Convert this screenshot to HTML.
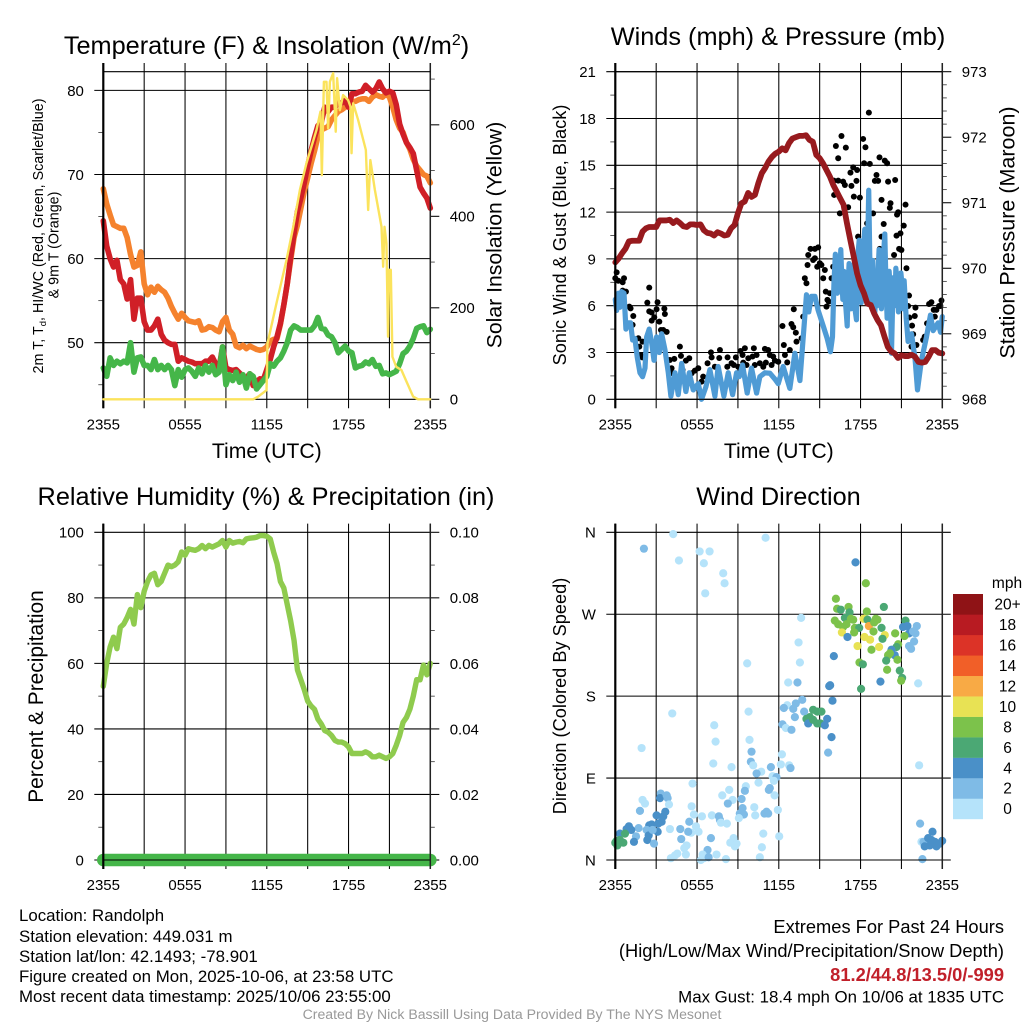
<!DOCTYPE html>
<html>
<head>
<meta charset="utf-8">
<title>Randolph Mesonet Meteogram</title>
<style>
html,body{margin:0;padding:0;background:#fff;}
svg{display:block;}
text{font-family:"Liberation Sans",Arial,sans-serif;fill:#000;}
.tick{font-size:15px;}
.title{font-size:25.3px;text-anchor:middle;}
.xt{font-size:21.2px;text-anchor:middle;}
.foot{font-size:16.85px;}
.big{font-size:18.3px;}
.r{text-anchor:end;}
</style>
</head>
<body>
<svg id="chart" xmlns="http://www.w3.org/2000/svg" width="1024" height="1024" viewBox="0 0 1024 1024">
<rect x="0" y="0" width="1024" height="1024" fill="#fff"/>
<text class="title" x="266.5" y="54">Temperature (F) &amp; Insolation (W/m<tspan dy="-9" font-size="16">2</tspan><tspan dy="9">)</tspan></text>
<text class="title" x="778" y="45">Winds (mph) &amp; Pressure (mb)</text>
<text class="title" x="266" y="505">Relative Humidity (%) &amp; Precipitation (in)</text>
<text class="title" x="778.5" y="505">Wind Direction</text>
<text class="xt" x="266.8" y="458">Time (UTC)</text>
<text class="xt" x="778.8" y="458">Time (UTC)</text>
<text font-size="14.3" text-anchor="middle" transform="translate(43,236) rotate(-90)">2m T, T<tspan dy="3" font-size="9.5">d</tspan><tspan dy="-3">, HI/WC (Red, Green, Scarlet/Blue)</tspan></text>
<text font-size="14.3" text-anchor="middle" transform="translate(58.5,245) rotate(-90)">&amp; 9m T (Orange)</text>
<text font-size="21.2" text-anchor="middle" transform="translate(501.5,235) rotate(-90)">Solar Insolation (Yellow)</text>
<text font-size="18.2" text-anchor="middle" transform="translate(566,235) rotate(-90)">Sonic Wind &amp; Gust (Blue, Black)</text>
<text font-size="21.5" text-anchor="middle" transform="translate(1014.5,232.5) rotate(-90)">Station Pressure (Maroon)</text>
<text font-size="20.9" text-anchor="middle" transform="translate(43,696.5) rotate(-90)">Percent &amp; Precipitation</text>
<text font-size="18.2" text-anchor="middle" transform="translate(566,696) rotate(-90)">Direction (Colored By Speed)</text>
<text x="1007" y="588" text-anchor="middle" font-size="15.5">mph</text>
<text class="foot" x="19" y="921">Location: Randolph</text>
<text class="foot" x="19" y="942">Station elevation: 449.031 m</text>
<text class="foot" x="19" y="962">Station lat/lon: 42.1493; -78.901</text>
<text class="foot" x="19" y="982">Figure created on Mon, 2025-10-06, at 23:58 UTC</text>
<text class="foot" x="19" y="1002">Most recent data timestamp: 2025/10/06 23:55:00</text>
<text class="big r" x="1004" y="933">Extremes For Past 24 Hours</text>
<text class="big r" x="1004" y="957">(High/Low/Max Wind/Precipitation/Snow Depth)</text>
<text class="big r" x="1004" y="981" font-weight="bold" style="fill:#c1202a">81.2/44.8/13.5/0/-999</text>
<text class="foot r" x="1004" y="1002.5">Max Gust: 18.4 mph On 10/06 at 1835 UTC</text>
<text x="512" y="1019" text-anchor="middle" font-size="14.1" style="fill:#999">Created By Nick Bassill Using Data Provided By The NYS Mesonet</text>
</svg>
<script>
// ---------- data ----------
const xTickHours = [0,3,6,9,12,15,18,21,24];
const xTickLabels = ['2355','','0555','','1155','','1755','','2355'];

const temp9m = [68.3,66.5,65.2,64,63.8,63.6,63.6,62.5,60.5,59,59.2,60.8,57,55.7,56.6,56,56.7,56.3,56,55.3,54.3,53.5,52.8,53.5,53,52.6,52.5,52.4,52.6,51.5,51.6,51.9,51.8,51.5,51.3,52.5,53,51.5,51,49.6,49.4,49.7,49.3,49.6,49.4,49.2,49.1,49.2,49.5,50.2,50.4,50.5,52.2,54.5,57,59.8,62.5,64,66,68,69.6,71.3,72.8,74.5,75.3,75.5,75.7,76.5,77,77.5,77.7,78,78.3,78.7,78.7,78.9,79,79,78.7,79.2,79.5,79.3,79.2,79.6,79.2,78,76.5,75.5,75,73.8,73,71.8,71,70.5,70,69.8,69];
const temp2m = [64.5,61.5,60,59,59.8,57.5,57,55.2,57.5,52.8,55.3,55.3,52.5,51.5,51.5,52,52.8,51,50.3,50,49.8,49.8,47.8,48.2,48,47.8,47.7,47.5,47.5,47.5,47.8,47.8,48.3,47.5,47,49.5,47,46.8,46.7,46.8,46.4,46,45.8,46.3,44.9,45.4,45.7,45.6,46.8,48,49.5,50.7,52.3,54.5,57,60.2,63,65.6,67.2,69,71,72.8,74.4,75.8,76.2,78,77.5,78,78,78.5,78.5,78.8,78,79.6,79.6,79.8,79.9,80.6,80.2,79.8,80.2,81,80.2,79.7,79.9,79.7,78.3,76,74.8,73.8,73.2,72.5,70.5,68.5,67.8,67.2,66];
const dewpoint = [47,46,48.2,47.3,47.8,47.5,47.8,47.6,50,46.5,48.2,48.3,47.3,47.3,46.8,48,46.8,47.3,46.8,47.3,46.8,44.9,46.8,45.9,46.8,47,46.6,46,47,46.3,47.3,46.5,47.3,46.2,46.5,49.5,45,46.2,45.5,46.5,45.3,46.2,44.6,46.3,46,44.5,45,45.5,46,47.5,47.2,47.8,48.2,49,50,51.5,52,51.8,51.5,51.5,51.5,51.5,52,53,51.7,51.6,50.9,50.7,50,48.8,49.2,49.6,49,48.8,47,47.2,47.3,47.7,47.5,48,47.2,47.3,46.3,46.4,46.2,46.4,46.6,47.5,48.7,49,49.6,50.5,51.7,51.9,52,51.2,51.6];
const solarHours = [0,11,11.37,11.98,12.05,12.71,13.45,13.94,14.43,14.91,15.65,15.94,16.04,16.19,16.38,16.5,16.63,16.87,17.06,17.16,17.36,17.6,17.97,18.14,18.22,18.34,18.7,19.27,19.44,19.6,19.93,20.42,20.54,20.64,20.78,20.9,20.98,21.1,21.22,21.5,21.88,22.25,22.74,23.1,24];
const solarWatts = [0,0,6,20,122,210,305,377,458,516,589,629,490,694,694,592,694,713,585,702,632,665,654,640,538,647,611,545,414,523,458,377,290,377,341,137,283,283,93,71,64,39,6,0,0];

const pressureMb = [970.09,970.15,970.23,970.3,970.41,970.42,970.42,970.42,970.56,970.61,970.63,970.63,970.63,970.73,970.73,970.73,970.74,970.69,970.73,970.69,970.64,970.63,970.67,970.67,970.66,970.67,970.58,970.54,970.53,970.5,970.55,970.53,970.5,970.51,970.61,970.66,970.84,970.99,971.02,971.15,971.09,971.12,971.3,971.45,971.53,971.63,971.7,971.75,971.78,971.83,971.8,971.91,971.98,972,972.02,972.02,972.03,971.96,971.93,971.73,971.68,971.6,971.5,971.4,971.27,971.17,971.07,970.97,970.69,970.43,970.18,969.92,969.74,969.62,969.46,969.44,969.31,969.21,969.13,968.96,968.8,968.73,968.7,968.63,968.67,968.66,968.66,968.68,968.65,968.57,968.56,968.57,968.65,968.75,968.75,968.71,968.7];
const windHours = [0,.1,.22,.34,.46,.64,.78,.95,1.12,1.27,1.44,1.61,1.81,2.0,2.18,2.3,2.49,2.67,2.84,3.03,3.23,3.4,3.64,3.89,4.08,4.38,4.62,4.87,5.18,5.43,5.72,6.09,6.33,6.65,6.94,7.31,7.55,7.97,8.29,8.61,8.9,9.1,9.34,9.68,10.0,10.37,10.61,10.98,11.35,11.71,11.96,12.32,12.81,13.18,13.55,14.03,14.2,14.4,14.65,14.89,15.26,15.55,15.79,
15.94,16.05,16.15,16.22,16.3,16.38,16.45,16.55,16.63,16.7,16.78,16.85,16.93,17.02,17.1,17.16,17.24,17.3,17.38,17.46,17.54,17.62,17.7,17.78,17.84,17.9,17.97,18.05,18.14,18.22,18.31,18.4,18.48,18.54,18.6,18.68,18.75,18.83,18.9,18.97,19.05,19.15,19.22,19.3,19.36,19.45,19.53,19.6,19.7,19.78,19.87,19.95,20.02,20.1,20.18,20.27,20.35,20.43,20.52,20.59,20.68,20.78,20.88,20.96,21.04,21.12,21.2,21.35,21.49,
21.74,22.0,22.18,22.47,22.84,23.13,23.33,23.69,23.87,24];
const windSpeeds = [6.4,5.7,6.8,5.9,6.9,6.8,4.5,4.9,4.9,3.8,3.9,2.7,1.7,1.45,2.0,4.0,4.5,3.6,2.5,4.0,3.0,4.2,3.2,1.7,.2,1.7,.3,2.3,.5,1.7,.6,1.0,0,.8,1.9,.2,2.1,.2,1.7,.3,1.7,1.45,2.2,.4,2.0,.4,1.45,1.7,1.67,1.3,1.0,2.1,.7,2.95,1.2,6.7,5.6,6.6,6.6,5.7,4.7,3.9,3.05,
4.0,7.5,9.3,8.4,6.8,8.9,7.2,9.6,7.6,6.4,8.2,6.6,5.8,4.7,7.6,8.7,6.6,5.8,8.3,8.6,6.4,5.6,5.1,8,9.6,10.2,7.2,6.2,7.6,9.6,10.9,8,6.6,10.5,13.4,9,6.4,7.4,8.9,6.6,5.6,7.6,6,8.4,9.6,6.8,5.8,7.6,9.4,10.6,7.2,5.2,5.9,8.2,7,2.95,6,7.8,6,8.4,7.6,5.6,6.6,8.1,7.4,5.8,7.6,5.2,3.7,
4.2,2.6,.6,2.5,4.0,5.4,4.4,4.9,4.3,5.3];
const gustHours = [.1,0,.22,.54,.64,.54,.78,1.03,1.12,1.32,1.27,1.69,2.0,1.76,1.86,1.98,2.49,2.35,2.49,2.67,3.1,3.03,2.86,2.67,3.23,3.6,3.64,3.35,3.52,3.77,4.74,4.33,4.82,5.43,5.18,4.0,4.13,4.2,4.38,4.94,6.09,5.84,5.6,6.33,6.45,6.77,7.02,7.07,7.63,7.68,7.31,6.94,8.24,8.22,8.53,8.7,8.85,9.02,9.19,9.51,9.34,10.17,10.07,9.76,9.39,10.37,9.63,10.24,10.61,10.98,11.22,11.34,11.59,11.05,10.86,11.47,11.71,11.96,12.27,13.1,12.93,13.06,13.25,12.37,12.45,12.62,12.81,13.3,13.67,13.79,13.91,14.03,14.11,14.16,14.33,14.65,14.89,14.52,14.65,14.82,15.01,15.13,15.38,15.26,15.87,15.99,15.45,15.75,15.57,15.67,15.5,16.19,16.6,16.36,16.92,18.19,18.36,18.61,18.26,18.68,19.39,19.78,19.95,17.26,17.46,17.75,16.04,16.36,16.72,16.85,17.33,17.7,19.17,19.05,19.29,20.02,20.54,16.06,17.51,17.95,19.54,20.2,21.3,16.48,17.09,20.15,18.92,20.76,20.68,19.7,18.48,21.17,20.93,20.64,17.82,19.54,19.41,20.83,21,20.46,21.37,21.56,21.49,22.03,21.59,21.98,21.78,21.86,22.1,21.74,22.35,22.59,22.71,22.88,23.03,23.2,23.37,23.57,23.45,23.76,23.94,23.86];
const gustSpeeds = [8.14,7.76,7.6,7.5,7.76,6.97,6.9,5.94,5.83,5.34,4.77,3.91,3.7,3.38,2.84,2.69,7.16,6.2,5.64,5.56,6.22,5.77,5.26,5.04,4.98,5.81,5.47,4.44,4.44,4.32,3.38,2.59,2.78,2.63,2.48,2.52,1.99,1.67,1.56,1.88,1.99,1.84,1.67,1.13,1.45,2.31,3.01,2.69,2.65,3.16,2.09,1.67,2.69,2.09,2.31,2.2,2.69,2.09,3.1,3.27,2.84,3.27,2.74,2.63,2.35,2.84,2.2,2.2,2.31,3.23,3.16,2.84,2.74,2.35,2.09,2.2,2.48,2.41,4.7,5.77,4.83,4.62,4.27,3.48,2.84,2.37,3.16,3.7,3.91,5.3,7.76,7.44,8.61,9.25,9.64,9.64,9.74,8.93,9.04,8.5,8.72,8.61,8.29,7.76,7.76,8.5,6.9,6.8,6.37,6.26,5.94,16.24,16.88,15.45,16.13,16.69,16.16,18.38,15.13,15.09,15.51,15.3,15.13,14.53,14.87,14.7,14.02,14.02,13.95,13.74,13.68,14,14.38,14,14,13.95,14.06,13.1,12.99,12.93,12.78,12.57,12.48,11.92,12.31,12.27,11.92,11.99,11.84,11.24,11.28,11.13,10.64,10.49,10.43,10.43,9.64,9.64,9.57,9.25,8.4,6.65,5.98,5.88,5.24,5.34,4.72,4.17,3.48,3.38,2.09,3.8,4.02,4.87,6.11,6.22,5.73,5.73,5.3,5.98,6.33,5.98];

const relHumidity = [53,60,65,68,64.5,71,72,74,76.5,72,81,77,82,85,87,87.5,84,85,87.5,90,89.5,90,91,94,93,95,94.7,94.5,95,96,95,96,95.5,96,96.5,97.5,95.5,97.5,96.7,97,97.2,96.8,98,98.2,98.3,98.5,99,99,98.8,98,94,90.5,85,83,78,73,67,58,55,52,48.5,47,46,43,41.5,39.5,39,38,36.5,36,36,35.5,34.5,32.5,32.5,32.5,32.5,33,32.5,31.5,31.5,32,31.5,31,31.5,32.5,35,38,42,43.5,46,50,55,55,59.5,56.5,60];
const precipInches = [0,0,0,0,0,0,0,0,0,0,0,0,0,0,0,0,0,0,0,0,0,0,0,0,0];

const dirHours = [4.25,2.10,11.03,6.19,6.92,4.67,6.50,7.92,8.02,6.60,
9.68,1.93,4.18,7.26,7.36,9.78,9.85,7.19,8.53,10.0,
9.95,10.12,10.71,10.37,11.42,11.54,11.83,11.64,10.51,9.58,
9.51,11.34,11.27,11.69,9.27,8.61,8.36,7.85,8.26,5.67,
5.60,9.34,9.14,9.44,9.07,10.2,10.27,11.93,11.1,10.95,
11.22,5.77,6.36,7.09,7.6,7.68,7.75,8.19,5.43,5.92,
6.11,5.57,4.77,5.35,4.01,4.84,7.02,5.23,5.06,5.18,
4.55,4.38,4.08,6.77,6.41,6.5,6.85,6.28,7.43,8.12,
8.68,8.44,8.9,8.78,10.86,10.76,10.61,12.03,1.81,2.0,
2.18,3.33,3.28,3.77,3.84,3.94,3.67,3.52,3.03,3.4,
3.15,2.67,2.49,2.3,1.71,1.52,1.0,.83,1.17,.34,
.71,.34,.1,0,.15,.59,1.37,2.35,2.45,2.84,
3.11,2.74,
17.63,18.39,16.19,16.28,16.55,17.12,17.19,18.46,19.71,16.85,
16.11,16.36,16.72,16.97,17.29,17.46,17.58,17.9,18.22,18.51,
18.61,19.12,19.24,19.0,18.95,19.54,21.3,21.12,21.44,22.13,
21.56,22.03,21.86,20.54,21.22,19.78,16.63,17.04,17.53,18.29,
18.7,19.61,17.78,19.36,18.8,21.93,21.56,21.71,20.76,20.64,
20.27,20.51,20.15,20.02,16.04,19.88,20.71,17.92,18.17,19.95,
20.88,21.05,20.98,19.46,15.77,15.7,18.04,22.23,13.64,13.45,
13.55,12.69,13.37,13.72,13.25,12.62,12.37,13.06,13.18,12.27,
12.52,12.93,13.86,15.94,14.52,14.82,15.13,14.28,14.03,14.16,
14.52,14.82,15.06,15.55,15.38,15.87,15.62,12.23,12.15,12.76,
12.86,22.3,22.37,22.47,22.62,23.28,22.96,23.2,23.45,23.99,
23.57,23.08,22.71,23.81,22.54];
const dirDegrees = [358,342,354,339,339,329,326,315,304,293,
216,123,161,148,130,163,132,106,102,119,
108,104,97,95,102,92,91,87,85,81,
76,79,77,71,67,66,77,71,62,84,
59,57,51,50,46,58,49,55,53,51,
51,50,48,49,48,44,41,40,42,37,
31,30,34,31,34,23,24,16,13,6,
7,5,2,11,6,2,3,0,6,1,
24,19,18,15,29,14,3,26,54,66,
62,73,68,71,68,61,53,48,49,42,
40,39,38,33,35,26,37,34,33,29,
29,22,21,19,16,19,20,22,27,18,
31,33,
327,304,287,276,275,278,272,273,278,266,
263,259,256,259,265,264,255,255,265,264,
257,265,264,261,251,255,263,256,257,257,
249,249,251,249,246,247,250,245,250,245,
242,243,235,234,231,240,235,232,237,234,
231,225,227,225,224,219,220,217,215,209,
208,200,197,196,192,191,188,194,266,239,
217,195,195,176,172,170,167,166,157,149,
145,143,163,175,165,163,163,157,155,150,
154,150,150,155,148,135,118,116,105,104,
101,104,40,20,20,31,24,22,20,21,
15,16,15,18,1];
const dirSpeeds = [1,3,1,1,1,1,1,1,1,1,
1,1,1,1,1,1,1,1,1,3,
3,1,1,3,3,1,3,1,1,1,
3,3,3,1,3,1,1,1,3,1,
1,3,3,3,1,1,1,1,3,3,
3,1,1,1,3,3,1,1,3,1,
1,1,3,3,1,3,3,1,1,1,
1,1,1,3,1,1,3,1,1,1,
1,1,1,1,1,1,1,1,3,1,
1,3,5,3,3,1,5,5,5,5,
5,5,5,3,3,3,5,5,5,5,
7,7,7,7,7,7,5,5,5,3,
5,3,
5,9,9,9,7,9,7,9,7,7,
9,9,9,9,9,9,9,7,11,7,
13,9,9,9,9,7,7,5,5,3,
5,3,3,9,9,11,11,5,9,11,
11,7,11,11,9,3,3,3,9,7,
5,5,9,9,5,7,9,9,7,9,
7,7,9,5,5,5,7,1,1,1,
1,1,3,3,3,1,3,3,3,3,
1,3,3,5,7,7,7,7,7,5,
7,7,7,5,5,5,3,1,1,1,
3,1,3,1,3,5,5,5,5,5,
5,5,5,5,3];
const speedBinColors = ['#b5e3fa','#7fbbe6','#4a90c8','#4ba874','#7cc24b','#e8e254','#f8aa45','#f15f28','#dc3327','#b81b22','#8f1316'];
const speedBinLabels = ['0','2','4','6','8','10','12','14','16','18','20+'];

const tempMajorTicks = [50,60,70,80];
const tempMinorTicks = [45,55,65,75];
const solarMajorTicks = [0,200,400,600];
const solarMinorTicks = [100,300,500,700];
const windMajorTicks = [0,3,6,9,12,15,18,21];
const windMinorTicks = [1.5,4.5,7.5,10.5,13.5,16.5,19.5];
const pressureMajorTicks = [968,969,970,971,972,973];
const pressureMinorTicks = [968.2,968.4,968.6,968.8,969.2,969.4,969.6,969.8,970.2,970.4,970.6,970.8,971.2,971.4,971.6,971.8,972.2,972.4,972.6,972.8];
const rhMajorTicks = [0,20,40,60,80,100];
const rhMinorTicks = [10,30,50,70,90];
const precipMajorTicks = [0,.02,.04,.06,.08,.1];
const precipMinorTicks = [.01,.03,.05,.07,.09];
const dirMajorTicks = [0,90,180,270,360];
const dirLabels = ['N','E','S','W','N'];

// ---------- scales ----------
const NS = 'http://www.w3.org/2000/svg';
const svg = document.getElementById('chart');
const LEFT_A = 103.3, LEFT_B = 615.3, PLOT_W = 327, ROW1_TOP = 71.7, ROW1_BOT = 399.3, ROW2_TOP = 532.3, ROW2_BOT = 860;
const xA = h => LEFT_A + h / 24 * PLOT_W;
const xB = h => LEFT_B + h / 24 * PLOT_W;
const tempY = v => ROW1_BOT - (v - 43.27) * 8.41;
const solarY = v => ROW1_BOT - v / 2.186;
const windY = v => ROW1_BOT - v * (ROW1_BOT - ROW1_TOP) / 21;
const pressY = v => ROW1_BOT - (v - 968) * (ROW1_BOT - ROW1_TOP) / 5;
const rhY = v => ROW2_BOT - v * (ROW2_BOT - ROW2_TOP) / 100;
const precipY = v => ROW2_BOT - v * (ROW2_BOT - ROW2_TOP) / 0.1;
const dirY = v => ROW2_BOT - v * (ROW2_BOT - ROW2_TOP) / 360;

function node(tag, parent) {
  const el = document.createElementNS(NS, tag);
  parent.appendChild(el);
  return el;
}
function rule(parent, x1, y1, x2, y2, w, color) {
  const el = node('line', parent);
  el.setAttribute('x1', x1); el.setAttribute('y1', y1);
  el.setAttribute('x2', x2); el.setAttribute('y2', y2);
  el.setAttribute('stroke', color || '#000');
  el.setAttribute('stroke-width', w);
  return el;
}
function label(parent, x, y, str, anchor) {
  const el = node('text', parent);
  el.setAttribute('x', x); el.setAttribute('y', y);
  el.setAttribute('class', 'tick');
  el.setAttribute('text-anchor', anchor);
  el.textContent = str;
  return el;
}
function polyline(parent, hours, values, xf, yf, w, color) {
  const el = node('polyline', parent);
  el.setAttribute('points', values.map((v, i) => xf(hours[i]).toFixed(2) + ',' + yf(v).toFixed(2)).join(' '));
  el.setAttribute('fill', 'none');
  el.setAttribute('stroke', color);
  el.setAttribute('stroke-width', w);
  el.setAttribute('stroke-linejoin', 'round');
  el.setAttribute('stroke-linecap', 'round');
  return el;
}
const evenHours = arr => arr.map((_, i) => i * 24 / (arr.length - 1));

function drawGrid(name, xf, top, bot, left, right, yTicks, yf) {
  const g = node('g', svg);
  
  
  xTickHours.forEach((h, i) => {
    const v = rule(g, xf(h), top - 8.7, xf(h), bot + 9, 1.05, '#000');
    
    
    if (xTickLabels[i]) {
      const t = label(g, xf(h), bot + 30, xTickLabels[i], 'middle');
      
      
    }
  });
  yTicks.forEach(v => {
    const l = rule(g, left - 9, yf(v), right, yf(v), 1.05, '#000');
    
    
  });
  return g;
}
function drawYAxisLabels(side, xf0, values, yf, fmt, ticksOut, minors, minorLen) {
  const g = node('g', svg);
  
  
  const dir = side.indexOf('right') >= 0 ? 1 : -1;
  values.forEach((v, i) => {
    if (ticksOut) {
      const tk = rule(g, xf0, yf(v), xf0 + dir * 9, yf(v), 1.05, '#000');
      
      
    }
    const t = label(g, xf0 + dir * 19.4, yf(v) + 5.4, fmt(v, i), dir > 0 ? 'start' : 'end');
    
    
  });
  minors.forEach(v => {
    const m = rule(g, xf0, yf(v), xf0 + dir * minorLen, yf(v), 0.8, '#333');
    
    
  });
}
function drawFrame(name, x0, top, bot, closeTop) {
  const g = node('g', svg);
  
  
  const l = rule(g, x0, top - 8.7, x0, bot + 9, 2.2, '#000');
  
  
  const b = rule(g, x0, bot, x0 + PLOT_W, bot, 1.1, '#000');
  
  
  const r = rule(g, x0 + PLOT_W, top - 8.7, x0 + PLOT_W, bot + 9, 1.5, '#222');
  
  
  if (closeTop) {
    const t = rule(g, x0, top, x0 + PLOT_W, top, 1.05, '#000');
    
    
  }
}

// ---------- panel 1: temperature and insolation ----------
drawGrid('temperature', xA, ROW1_TOP, ROW1_BOT, LEFT_A, LEFT_A + PLOT_W, tempMajorTicks, tempY);
drawYAxisLabels('temperature-left', LEFT_A, tempMajorTicks, tempY, v => String(v), false, tempMinorTicks, 5);
drawYAxisLabels('solar-right', LEFT_A + PLOT_W, solarMajorTicks, solarY, v => String(v), true, solarMinorTicks, 4.5);
const lineT9 = polyline(svg, evenHours(temp9m), temp9m, xA, tempY, 5.6, '#f5822d');


const lineT2 = polyline(svg, evenHours(temp2m), temp2m, xA, tempY, 5.6, '#d01f27');


const lineTd = polyline(svg, evenHours(dewpoint), dewpoint, xA, tempY, 5.6, '#45b649');


drawFrame('temperature', LEFT_A, ROW1_TOP, ROW1_BOT, true);
const lineSolar = polyline(svg, solarHours, solarWatts, xA, solarY, 2.4, '#fbe35c');



// ---------- panel 2: winds and pressure ----------
drawGrid('winds', xB, ROW1_TOP, ROW1_BOT, LEFT_B, LEFT_B + PLOT_W, windMajorTicks, windY);
drawYAxisLabels('wind-left', LEFT_B, windMajorTicks, windY, v => String(v), false, windMinorTicks, 5);
drawYAxisLabels('pressure-right', LEFT_B + PLOT_W, pressureMajorTicks, pressY, v => String(v), true, pressureMinorTicks, 4.5);
gustHours.forEach((h, i) => {
  const c = node('circle', svg);
  c.setAttribute('cx', xB(h).toFixed(2));
  c.setAttribute('cy', windY(gustSpeeds[i]).toFixed(2));
  c.setAttribute('r', 3);
  c.setAttribute('fill', '#000');
  
  
});
const lineWind = polyline(svg, windHours, windSpeeds, xB, windY, 5.2, '#4f9bd5');


const linePress = polyline(svg, evenHours(pressureMb), pressureMb, xB, pressY, 5.8, '#971a1e');


drawFrame('winds', LEFT_B, ROW1_TOP, ROW1_BOT, true);

// ---------- panel 3: humidity and precipitation ----------
drawGrid('humidity', xA, ROW2_TOP, ROW2_BOT, LEFT_A, LEFT_A + PLOT_W, rhMajorTicks, rhY);
drawYAxisLabels('humidity-left', LEFT_A, rhMajorTicks, rhY, v => String(v), false, rhMinorTicks, 5);
drawYAxisLabels('precipitation-right', LEFT_A + PLOT_W, precipMajorTicks, precipY, v => v.toFixed(2), true, precipMinorTicks, 4.5);
const lineRh = polyline(svg, evenHours(relHumidity), relHumidity, xA, rhY, 5.4, '#8fcb4e');


const linePrecip = polyline(svg, evenHours(precipInches), precipInches, xA, precipY, 12.6, '#45b649');


drawFrame('humidity', LEFT_A, ROW2_TOP, ROW2_BOT, false);

// ---------- panel 4: wind direction ----------
drawGrid('direction', xB, ROW2_TOP, ROW2_BOT, LEFT_B, LEFT_B + PLOT_W + 8.5, dirMajorTicks, dirY);
drawYAxisLabels('direction-left', LEFT_B, dirMajorTicks, dirY, (v, i) => dirLabels[i], false, [], 5);
dirHours.forEach((h, i) => {
  const c = node('circle', svg);
  c.setAttribute('cx', xB(h).toFixed(2));
  c.setAttribute('cy', dirY(dirDegrees[i]).toFixed(2));
  c.setAttribute('r', 4.1);
  c.setAttribute('fill', speedBinColors[Math.min(10, Math.floor(dirSpeeds[i] / 2))]);
  
  
});
drawFrame('direction', LEFT_B, ROW2_TOP, ROW2_BOT, false);

// ---------- colour bar ----------
const barG = node('g', svg);


speedBinColors.forEach((col, i) => {
  const boxH = 225 / speedBinColors.length;
  const y = 819 - (i + 1) * boxH;
  const r = node('rect', barG);
  r.setAttribute('x', 953); r.setAttribute('y', y.toFixed(2));
  r.setAttribute('width', 30); r.setAttribute('height', (boxH + 0.2).toFixed(2));
  r.setAttribute('fill', col);
  
  
  const t = label(barG, 1007.5, y + boxH / 2 + 5.4, speedBinLabels[i], 'middle');
  t.setAttribute('font-size', '15.5');
  t.setAttribute('style', 'font-size:15.5px');
  
  
});
</script>
</body>
</html>
